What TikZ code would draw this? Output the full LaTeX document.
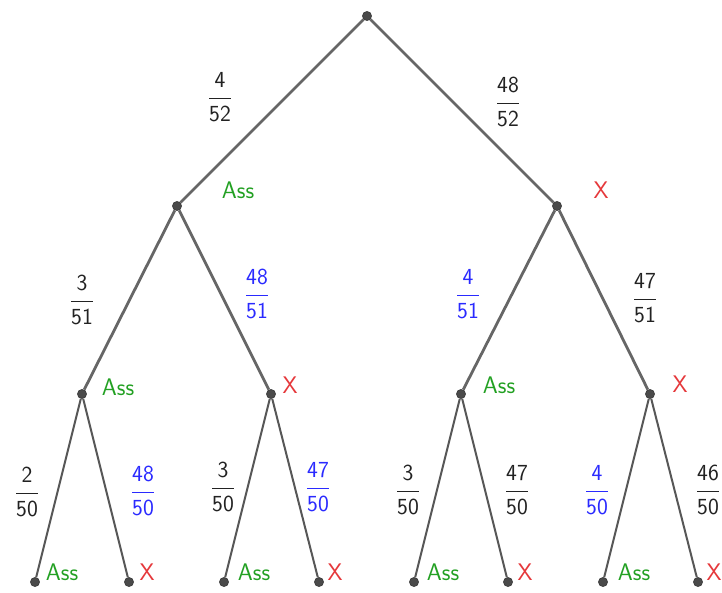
\documentclass[tikz,border=0pt]{standalone}
\usepackage{amsmath}
\usetikzlibrary{positioning}
\definecolor{edgegrey}{HTML}{666666}
\definecolor{dotgrey}{HTML}{4A4A4A}
\definecolor{assgreen}{HTML}{22A022}
\definecolor{xred}{HTML}{E5383B}
\definecolor{probblue}{HTML}{2A2AFF}
\definecolor{probblack}{HTML}{222222}
\newcommand{\pfrac}[2]{$\dfrac{\textsf{#1}}{\textsf{#2}}$}
\tikzset{
  dot/.style={circle, fill=dotgrey, draw=black!75, line width=0.8pt,
              inner sep=0pt, minimum size=9pt},
  upedge/.style={draw=edgegrey, line width=2.8pt},
  lowedge/.style={draw=edgegrey!85!black, line width=2pt},
  prob/.style={text=#1, inner sep=0pt, font=\fontsize{23}{27}\sffamily},
  outcome/.style={text=#1, inner sep=0pt, font=\fontsize{24}{28}\sffamily},
}

\begin{document}
\begin{tikzpicture}[x=1pt, y=-1pt]
  \useasboundingbox (0,0) rectangle (722,592);
  % tree nodes
  \node[dot] (r)   at (367,16)  {};
  \node[dot] (a)   at (177,206) {};
  \node[dot] (b)   at (557,206) {};
  \node[dot] (aa)  at (82,394)  {};
  \node[dot] (ab)  at (271,394) {};
  \node[dot] (ba)  at (461,394) {};
  \node[dot] (bb)  at (650,394) {};
  \node[dot] (aaa) at (35,582)  {};
  \node[dot] (aab) at (129,582) {};
  \node[dot] (aba) at (224,582) {};
  \node[dot] (abb) at (319,582) {};
  \node[dot] (baa) at (414,582) {};
  \node[dot] (bab) at (508,582) {};
  \node[dot] (bba) at (603,582) {};
  \node[dot] (bbb) at (698,582) {};
  % branches
  \draw[upedge] (r) -- (a);
  \draw[upedge] (r) -- (b);
  \draw[upedge] (a) -- (aa);
  \draw[upedge] (a) -- (ab);
  \draw[upedge] (b) -- (ba);
  \draw[upedge] (b) -- (bb);
  \draw[lowedge] (aa) -- (aaa);
  \draw[lowedge] (aa) -- (aab);
  \draw[lowedge] (ab) -- (aba);
  \draw[lowedge] (ab) -- (abb);
  \draw[lowedge] (ba) -- (baa);
  \draw[lowedge] (ba) -- (bab);
  \draw[lowedge] (bb) -- (bba);
  \draw[lowedge] (bb) -- (bbb);
  % probabilities
  \node[prob=probblack] (pa)   at (220,97)  {\pfrac{4}{52}};
  \node[prob=probblack] (pb)   at (508,102) {\pfrac{48}{52}};
  \node[prob=probblack] (paa)  at (82,300)  {\pfrac{3}{51}};
  \node[prob=probblue]  (pab)  at (257,294) {\pfrac{48}{51}};
  \node[prob=probblue]  (pba)  at (468,294) {\pfrac{4}{51}};
  \node[prob=probblack] (pbb)  at (645,298) {\pfrac{47}{51}};
  \node[prob=probblack] (paaa) at (27,492)  {\pfrac{2}{50}};
  \node[prob=probblue]  (paab) at (143,491) {\pfrac{48}{50}};
  \node[prob=probblack] (paba) at (223,487) {\pfrac{3}{50}};
  \node[prob=probblue]  (pabb) at (318,487) {\pfrac{47}{50}};
  \node[prob=probblack] (pbaa) at (408,490) {\pfrac{3}{50}};
  \node[prob=probblack] (pbab) at (517,490) {\pfrac{47}{50}};
  \node[prob=probblue]  (pbba) at (597,490) {\pfrac{4}{50}};
  \node[prob=probblack] (pbbb) at (708,490) {\pfrac{46}{50}};
  % outcomes
  \node[outcome=assgreen] (oa)   at (238,190) {Ass};
  \node[outcome=xred]     (ob)   at (601,190) {X};
  \node[outcome=assgreen] (oaa)  at (118,387) {Ass};
  \node[outcome=xred]     (oab)  at (290,385) {X};
  \node[outcome=assgreen] (oba)  at (499,385) {Ass};
  \node[outcome=xred]     (obb)  at (680,384) {X};
  \node[outcome=assgreen] (oaaa) at (62,572)  {Ass};
  \node[outcome=xred]     (oaab) at (147,572) {X};
  \node[outcome=assgreen] (oaba) at (254,572) {Ass};
  \node[outcome=xred]     (oabb) at (335,572) {X};
  \node[outcome=assgreen] (obaa) at (443,572) {Ass};
  \node[outcome=xred]     (obab) at (525,572) {X};
  \node[outcome=assgreen] (obba) at (634,572) {Ass};
  \node[outcome=xred]     (obbb) at (714,572) {X};
\end{tikzpicture}
\end{document}
